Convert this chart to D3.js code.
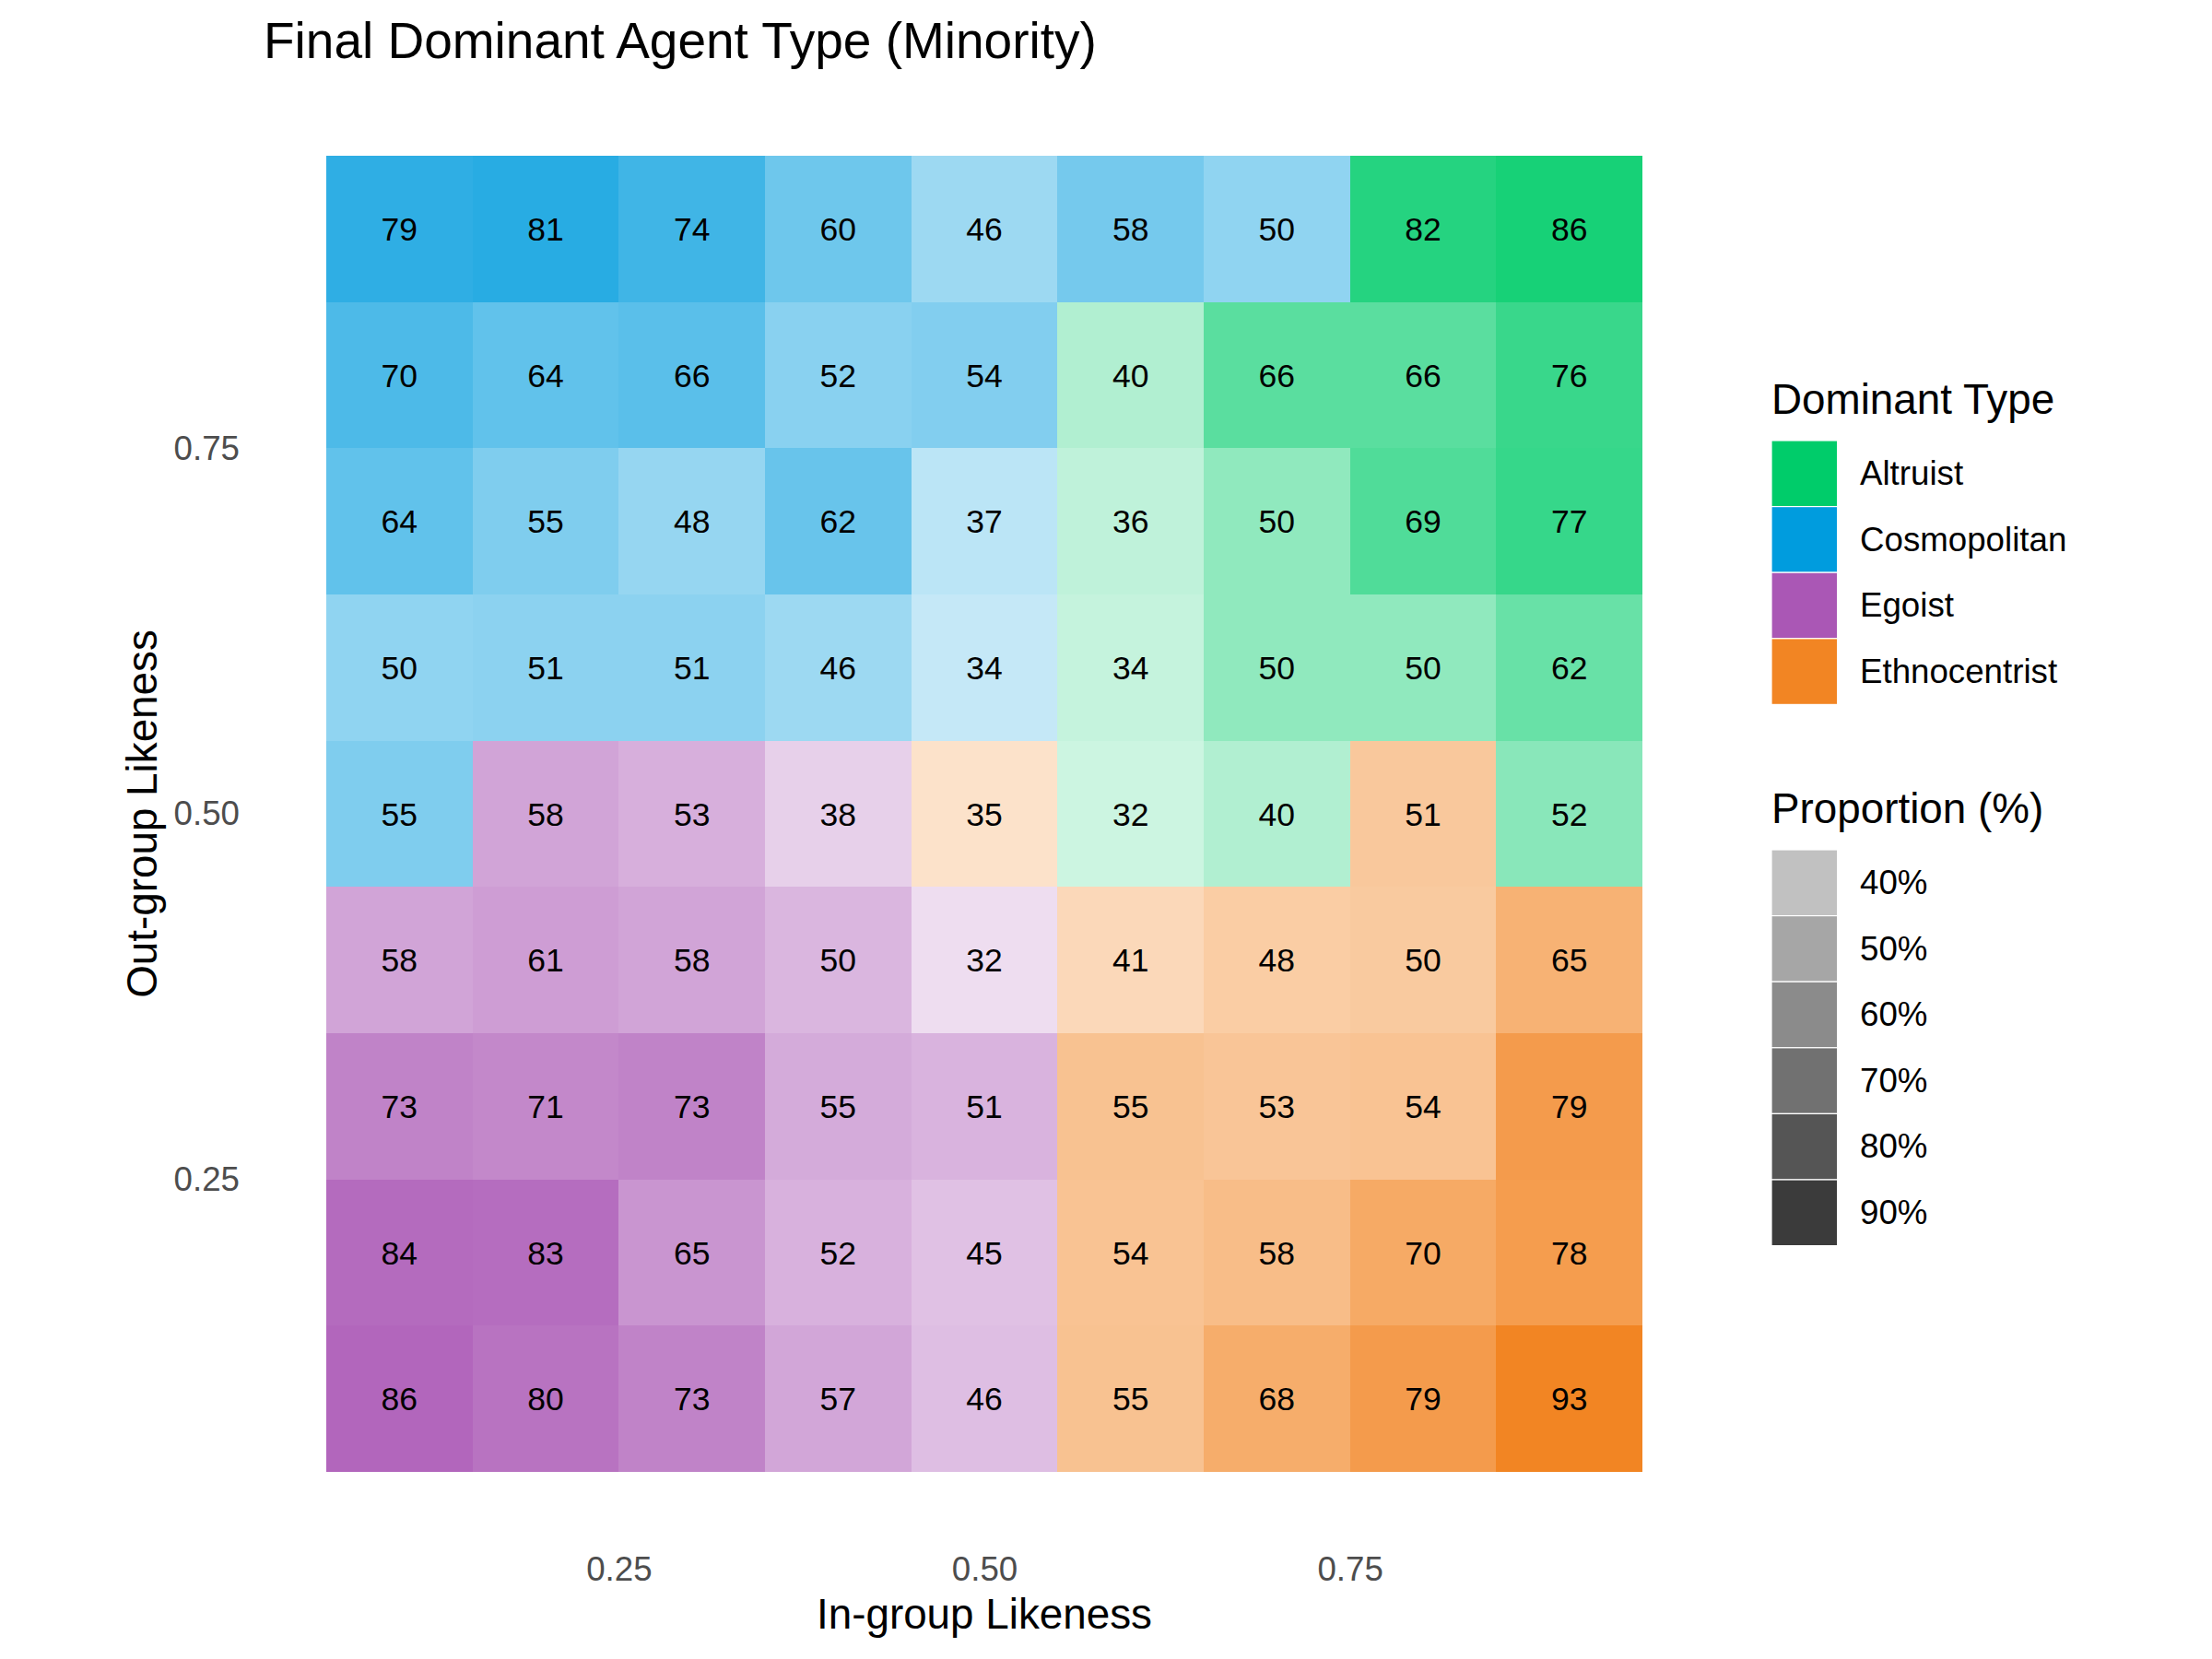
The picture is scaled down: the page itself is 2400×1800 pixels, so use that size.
<!DOCTYPE html>
<html>
<head>
<meta charset="utf-8">
<script src="https://cdn.jsdelivr.net/npm/d3@7"></script>
<style>
  html, body { margin: 0; padding: 0; background: #ffffff; }
  svg { display: block; font-family: "Liberation Sans", Arial, Helvetica, sans-serif; }
</style>
</head>
<body>
<svg id="chart" width="2400" height="1800"></svg>
<script>
// ---------------- data ----------------
const inGroup  = [0.1, 0.2, 0.3, 0.4, 0.5, 0.6, 0.7, 0.8, 0.9];           // x categories
const outGroup = [0.9, 0.8, 0.7, 0.6, 0.5, 0.4, 0.3, 0.2, 0.1];           // rows, top to bottom
const typeNames = ["Altruist", "Cosmopolitan", "Egoist", "Ethnocentrist"];
const typeColors = ["#00CC6A", "#009CDE", "#AA57B5", "#F28523"];
// dominant type per cell: A=Altruist, C=Cosmopolitan, G=Egoist, E=Ethnocentrist
const dominant = [
  "CCCCCCCAA",
  "CCCCCAAAA",
  "CCCCCAAAA",
  "CCCCCAAAA",
  "CGGGEAAEA",
  "GGGGGEEEE",
  "GGGGGEEEE",
  "GGGGGEEEE",
  "GGGGGEEEE"
];
const proportion = [
  [79, 81, 74, 60, 46, 58, 50, 82, 86],
  [70, 64, 66, 52, 54, 40, 66, 66, 76],
  [64, 55, 48, 62, 37, 36, 50, 69, 77],
  [50, 51, 51, 46, 34, 34, 50, 50, 62],
  [55, 58, 53, 38, 35, 32, 40, 51, 52],
  [58, 61, 58, 50, 32, 41, 48, 50, 65],
  [73, 71, 73, 55, 51, 55, 53, 54, 79],
  [84, 83, 65, 52, 45, 54, 58, 70, 78],
  [86, 80, 73, 57, 46, 55, 68, 79, 93]
];
const axisTicks = [0.25, 0.50, 0.75];
const alphaBreaks = [40, 50, 60, 70, 80, 90];
const codeToType = {A: "Altruist", C: "Cosmopolitan", G: "Egoist", E: "Ethnocentrist"};

const title = "Final Dominant Agent Type (Minority)";
const xTitle = "In-group Likeness";
const yTitle = "Out-group Likeness";
const fillTitle = "Dominant Type";
const alphaTitle = "Proportion (%)";

// ---------------- build cells ----------------
const cells = [];
outGroup.forEach((oy, r) => {
  inGroup.forEach((ix, c) => {
    cells.push({x: ix, y: oy, type: codeToType[dominant[r][c]], value: proportion[r][c]});
  });
});

const svg = d3.select("#chart");
svg.append("rect").attr("width", 2400).attr("height", 1800).attr("fill", "#ffffff");

const x = d3.scaleLinear().domain([0.05, 0.95]).range([354, 1782]);
const y = d3.scaleLinear().domain([0.05, 0.95]).range([1597, 169]);
const color = d3.scaleOrdinal().domain(typeNames).range(typeColors);
const allVals = cells.map(d => d.value);
const alpha = d3.scaleLinear().domain([d3.min(allVals), d3.max(allVals)]).range([0.2, 1]);

const halfW = (x(0.15) - x(0.05)) / 2;
const halfH = (y(0.05) - y(0.15)) / 2;

// tiles (edges snapped to whole pixels so neighbours meet without seams)
svg.append("g").selectAll("rect").data(cells).join("rect")
  .attr("x", d => Math.round(x(d.x) - halfW))
  .attr("y", d => Math.round(y(d.y) - halfH))
  .attr("width", d => Math.round(x(d.x) + halfW) - Math.round(x(d.x) - halfW))
  .attr("height", d => Math.round(y(d.y) + halfH) - Math.round(y(d.y) - halfH))
  .attr("fill", d => color(d.type))
  .attr("fill-opacity", d => alpha(d.value))
  .attr("shape-rendering", "crispEdges");

// labels
svg.append("g").selectAll("text").data(cells).join("text")
  .attr("x", d => x(d.x))
  .attr("y", d => y(d.y))
  .attr("dy", "0.36em")
  .attr("text-anchor", "middle")
  .attr("font-size", 35.5)
  .attr("fill", "#000000")
  .text(d => d3.format("d")(d.value));

// axes
const xAxis = svg.append("g").attr("transform", "translate(0,1689)")
  .call(d3.axisBottom(x).tickValues(axisTicks).tickFormat(d3.format(".2f")).tickSize(0).tickPadding(0));
xAxis.select(".domain").remove();
xAxis.selectAll("text").attr("font-size", 36.7).attr("fill", "#4D4D4D").attr("font-family", null);

const yAxis = svg.append("g").attr("transform", "translate(260,0)")
  .call(d3.axisLeft(y).tickValues(axisTicks).tickFormat(d3.format(".2f")).tickSize(0).tickPadding(0));
yAxis.select(".domain").remove();
yAxis.selectAll("text").attr("font-size", 36.7).attr("fill", "#4D4D4D").attr("font-family", null);

// titles
svg.append("text").attr("x", 286).attr("y", 63).attr("font-size", 55).attr("fill", "#000").text(title);
svg.append("text").attr("x", (354 + 1782) / 2).attr("y", 1767).attr("text-anchor", "middle")
  .attr("font-size", 45.8).attr("fill", "#000").text(xTitle);
svg.append("text").attr("transform", `translate(170,${(169 + 1597) / 2}) rotate(-90)`)
  .attr("text-anchor", "middle").attr("font-size", 45.8).attr("fill", "#000").text(yTitle);

// fill legend
const keyS = 71.6;
const lgX = 1922;
svg.append("text").attr("x", lgX).attr("y", 449).attr("font-size", 45.8).attr("fill", "#000").text(fillTitle);
const fl = svg.append("g").attr("transform", "translate(" + lgX + ",478)");
typeNames.forEach((t, i) => {
  fl.append("rect").attr("x", 0).attr("y", i * keyS).attr("width", keyS).attr("height", keyS)
    .attr("fill", color(t)).attr("stroke", "#ffffff").attr("stroke-width", 1.2);
  fl.append("text").attr("x", 96).attr("y", i * keyS + keyS / 2).attr("dy", "0.33em")
    .attr("font-size", 36.7).attr("fill", "#000").text(t);
});

// alpha legend
svg.append("text").attr("x", lgX).attr("y", 893).attr("font-size", 45.8).attr("fill", "#000").text(alphaTitle);
const al = svg.append("g").attr("transform", "translate(" + lgX + ",922)");
alphaBreaks.forEach((v, i) => {
  al.append("rect").attr("x", 0).attr("y", i * keyS).attr("width", keyS).attr("height", keyS)
    .attr("fill", "#333333").attr("fill-opacity", alpha(v)).attr("stroke", "#ffffff").attr("stroke-width", 1.2);
  al.append("text").attr("x", 96).attr("y", i * keyS + keyS / 2).attr("dy", "0.33em")
    .attr("font-size", 36.7).attr("fill", "#000").text(v + "%");
});
</script>
</body>
</html>
